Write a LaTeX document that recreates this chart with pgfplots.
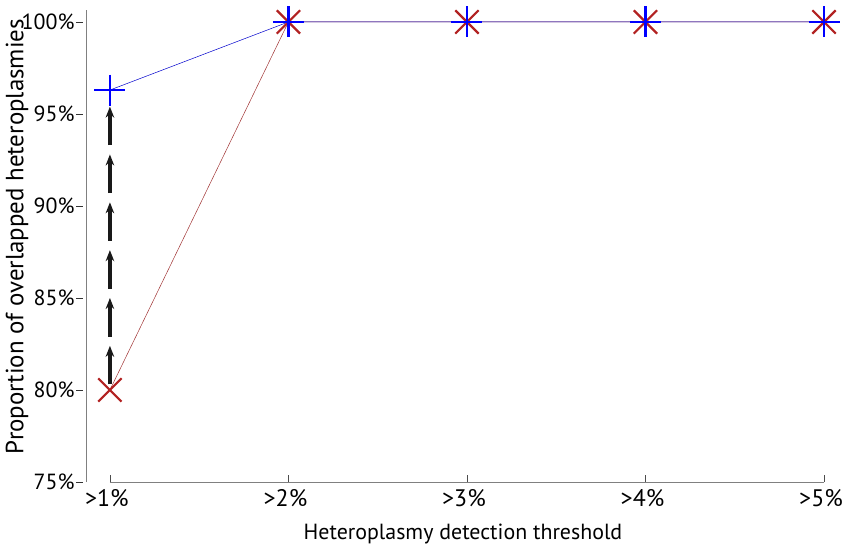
\documentclass[border=0pt]{standalone}
\usepackage{pgfplots}
\pgfplotsset{compat=1.18}
\usetikzlibrary{arrows.meta}
\usepackage{fontspec}
\setmainfont{PT Sans}
\definecolor{myblue}{RGB}{0,0,255}
\definecolor{myred}{RGB}{178,34,34}
\definecolor{redline}{RGB}{160,50,50}
\begin{document}
\begin{tikzpicture}
\useasboundingbox (-86bp,-62bp) rectangle (765bp,482bp);
\begin{axis}[
  at={(0,0)}, anchor=south west,
  scale only axis, width=738bp, height=472bp,
  xmin=-0.134, xmax=4, ymin=75, ymax=100.65,
  clip=false,
  axis line style={draw=none},
  xtick pos=bottom, ytick pos=left,
  xtick={0,1,2,3,4},
  xticklabels={>1\%,>2\%,>3\%,>4\%,>5\%},
  ytick={75,80,85,90,95,100},
  yticklabels={75\%,80\%,85\%,90\%,95\%,100\%},
  /pgf/number format/assume math mode=true,
  major tick length=7bp,
  xtick style={black!70, line width=0.5pt, /pgfplots/tick align=inside},
  ytick style={black!80, line width=0.5pt, /pgfplots/tick align=outside, xshift=-3bp},
  yticklabel style={font=\fontsize{22}{24}\selectfont, xshift=-8bp},
  xticklabel style={font=\fontsize{24}{26}\selectfont, yshift=-4bp, xshift=-3bp},
  xlabel={Heteroplasmy detection threshold},
  ylabel={Proportion of overlapped heteroplasmies},
  every axis x label/.style={at={(axis description cs:0.5,0)}, anchor=center,
     yshift=-52bp, xshift=8bp, font=\fontsize{22}{24}\selectfont},
  every axis y label/.style={at={(axis description cs:-0.0935,0.52)}, rotate=90,
     anchor=center, font=\fontsize{25}{28}\selectfont},
]
\draw[gray, line width=0.8pt] (axis cs:0,75) -- (axis cs:4,75);
\draw[gray, line width=0.8pt] (axis cs:-0.134,75) -- (axis cs:-0.134,100.65);
\addplot[quiver={u=0,v=\thisrow{v},
    every arrow/.append style={line width=3.4bp, -{Stealth[length=11bp,width=8.5bp]}}},
  black!90] table {
x y v
0 80.3 2.1
0 82.9 2.1
0 85.5 2.1
0 88.1 2.1
0 90.7 2.1
0 93.3 2.1
};
\addplot[color=redline, line width=0.5pt, mark=x, mark size=16.5bp,
  mark options={color=myred, line width=2.2pt}] coordinates {
(0,80) (1,100) (2,100) (3,100) (4,100)};
\addplot[color=myblue!80!black, line width=0.5pt, mark=+, mark size=15.5bp,
  mark options={color=myblue, line width=2.6pt}] coordinates {
(0,96.3) (1,100) (2,100) (3,100) (4,100)};
\end{axis}
\end{tikzpicture}
\end{document}
